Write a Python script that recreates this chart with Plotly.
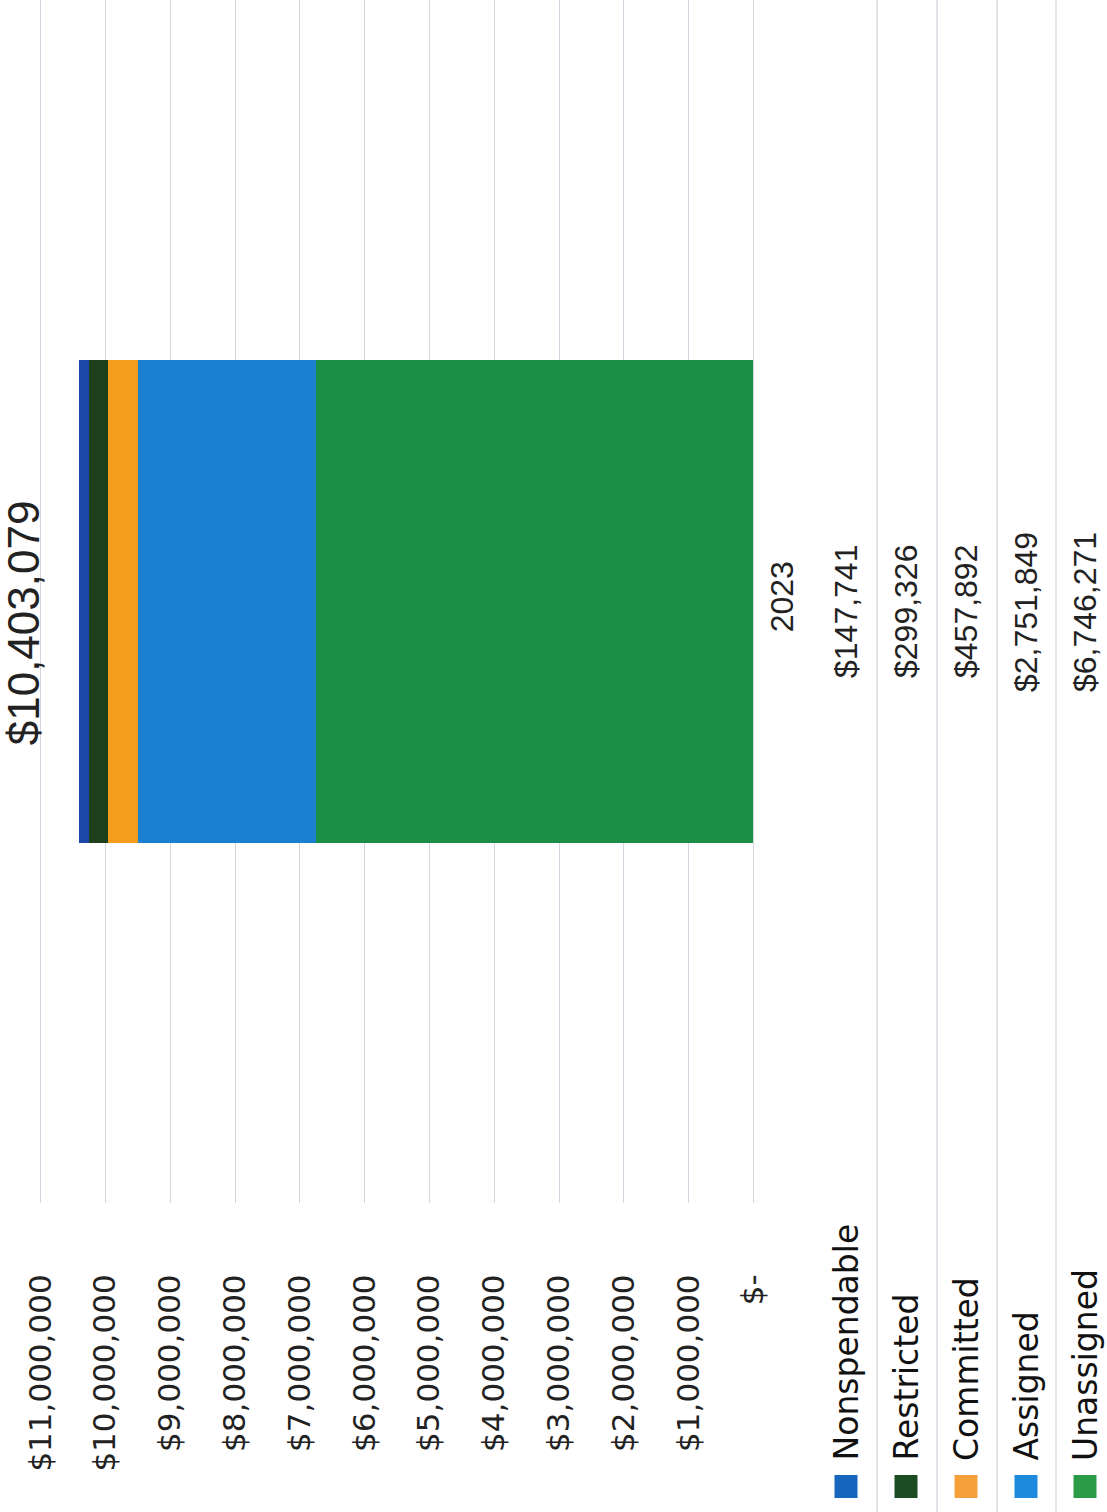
import plotly.graph_objects as go

# ---- data ----
categories = ["2023"]
series_names = ["Nonspendable", "Restricted", "Committed", "Assigned", "Unassigned"]
nonspendable = [147741]
restricted = [299326]
committed = [457892]
assigned = [2751849]
unassigned = [6746271]
tick_values = [0, 1e6, 2e6, 3e6, 4e6, 5e6, 6e6, 7e6, 8e6, 9e6, 10e6, 11e6]
tick_labels = ["$-", "$1,000,000", "$2,000,000", "$3,000,000", "$4,000,000", "$5,000,000",
               "$6,000,000", "$7,000,000", "$8,000,000", "$9,000,000", "$10,000,000", "$11,000,000"]

series_values = {
    "Nonspendable": nonspendable,
    "Restricted": restricted,
    "Committed": committed,
    "Assigned": assigned,
    "Unassigned": unassigned,
}
colors = {
    "Nonspendable": "#1b47a8",
    "Restricted": "#1e401c",
    "Committed": "#f39c1e",
    "Assigned": "#1b80d0",
    "Unassigned": "#1a8f45",
}
legend_colors = {
    "Nonspendable": "#1766bd",
    "Restricted": "#1c4d22",
    "Committed": "#f5a03a",
    "Assigned": "#1e8ade",
    "Unassigned": "#2b9b48",
}

W, H = 1107, 1512
L, R, T, B = 34, 347, 0, 309
PW = W - L - R
PH = H - T - B
ext = 0.1019e6
grid_col = "#d4d6df"

def px(xpix):
    return (xpix - L) / PW

def py(ypix):
    return (T + PH - ypix) / PH

fig = go.Figure()
stack_order = ["Unassigned", "Assigned", "Committed", "Restricted", "Nonspendable"]
for name in stack_order:
    fig.add_trace(go.Bar(
        y=categories, x=series_values[name], orientation="h", name=name,
        marker=dict(color=colors[name], line=dict(width=0)),
        width=0.4023, showlegend=False,
    ))

total = sum(v[0] for v in series_values.values())

annotations = []
# total label at the end of the stacked bar
annotations.append(dict(
    x=total, y=0, xref="x", yref="y", text=f"${total:,.0f}",
    showarrow=False, textangle=-90, xanchor="right", yanchor="middle",
    xshift=-29, yshift=-21,
    font=dict(family="Liberation Sans, Arial", size=44, color="#222222"),
))

row_x = [846, 906, 966, 1026, 1085]
for i, name in enumerate(series_names):
    v = series_values[name][0]
    annotations.append(dict(
        x=px(row_x[i]), y=py(612), xref="paper", yref="paper",
        text=f"${v:,.0f}", showarrow=False, textangle=-90,
        xanchor="center", yanchor="middle",
        font=dict(family="Liberation Sans, Arial", size=32, color="#222222"),
    ))
    annotations.append(dict(
        x=px(row_x[i]), y=py(1463), xref="paper", yref="paper",
        text=name, showarrow=False, textangle=-90,
        xanchor="center", yanchor="bottom",
        font=dict(family="DejaVu Sans", size=33, color="#111111"),
    ))

shapes = []
for xl in [877, 937, 997, 1056]:
    shapes.append(dict(type="line", xref="paper", yref="paper",
                       x0=px(xl), x1=px(xl), y0=py(0), y1=py(H),
                       line=dict(color=grid_col, width=1.3)))
for i, name in enumerate(series_names):
    shapes.append(dict(type="rect", xref="paper", yref="paper",
                       x0=px(row_x[i] - 11.5), x1=px(row_x[i] + 11.5),
                       y0=py(1475), y1=py(1498),
                       fillcolor=legend_colors[name], line=dict(width=0)))

fig.update_layout(
    width=W, height=H,
    margin=dict(l=L, r=R, t=T, b=B, pad=0),
    paper_bgcolor="white", plot_bgcolor="white",
    barmode="stack",
    annotations=annotations, shapes=shapes,
    xaxis=dict(
        range=[11e6 + ext, -ext], autorange=False,
        tickvals=tick_values, ticktext=tick_labels,
        tickangle=-90, side="bottom",
        ticks="outside", ticklen=58, tickcolor="rgba(0,0,0,0)",
        showgrid=True, gridcolor=grid_col, gridwidth=1.3,
        zeroline=True, zerolinecolor=grid_col, zerolinewidth=1.3,
        showline=False,
        tickfont=dict(family="DejaVu Sans", size=31, color="#222222"),
    ),
    yaxis=dict(
        type="category", side="right",
        range=[-0.5, 0.5], autorange=False,
        tickangle=-90, showgrid=False, zeroline=False, showline=False,
        ticks="",
        tickfont=dict(family="Liberation Sans, Arial", size=32, color="#222222"),
    ),
)

fig.write_html("out.html")
